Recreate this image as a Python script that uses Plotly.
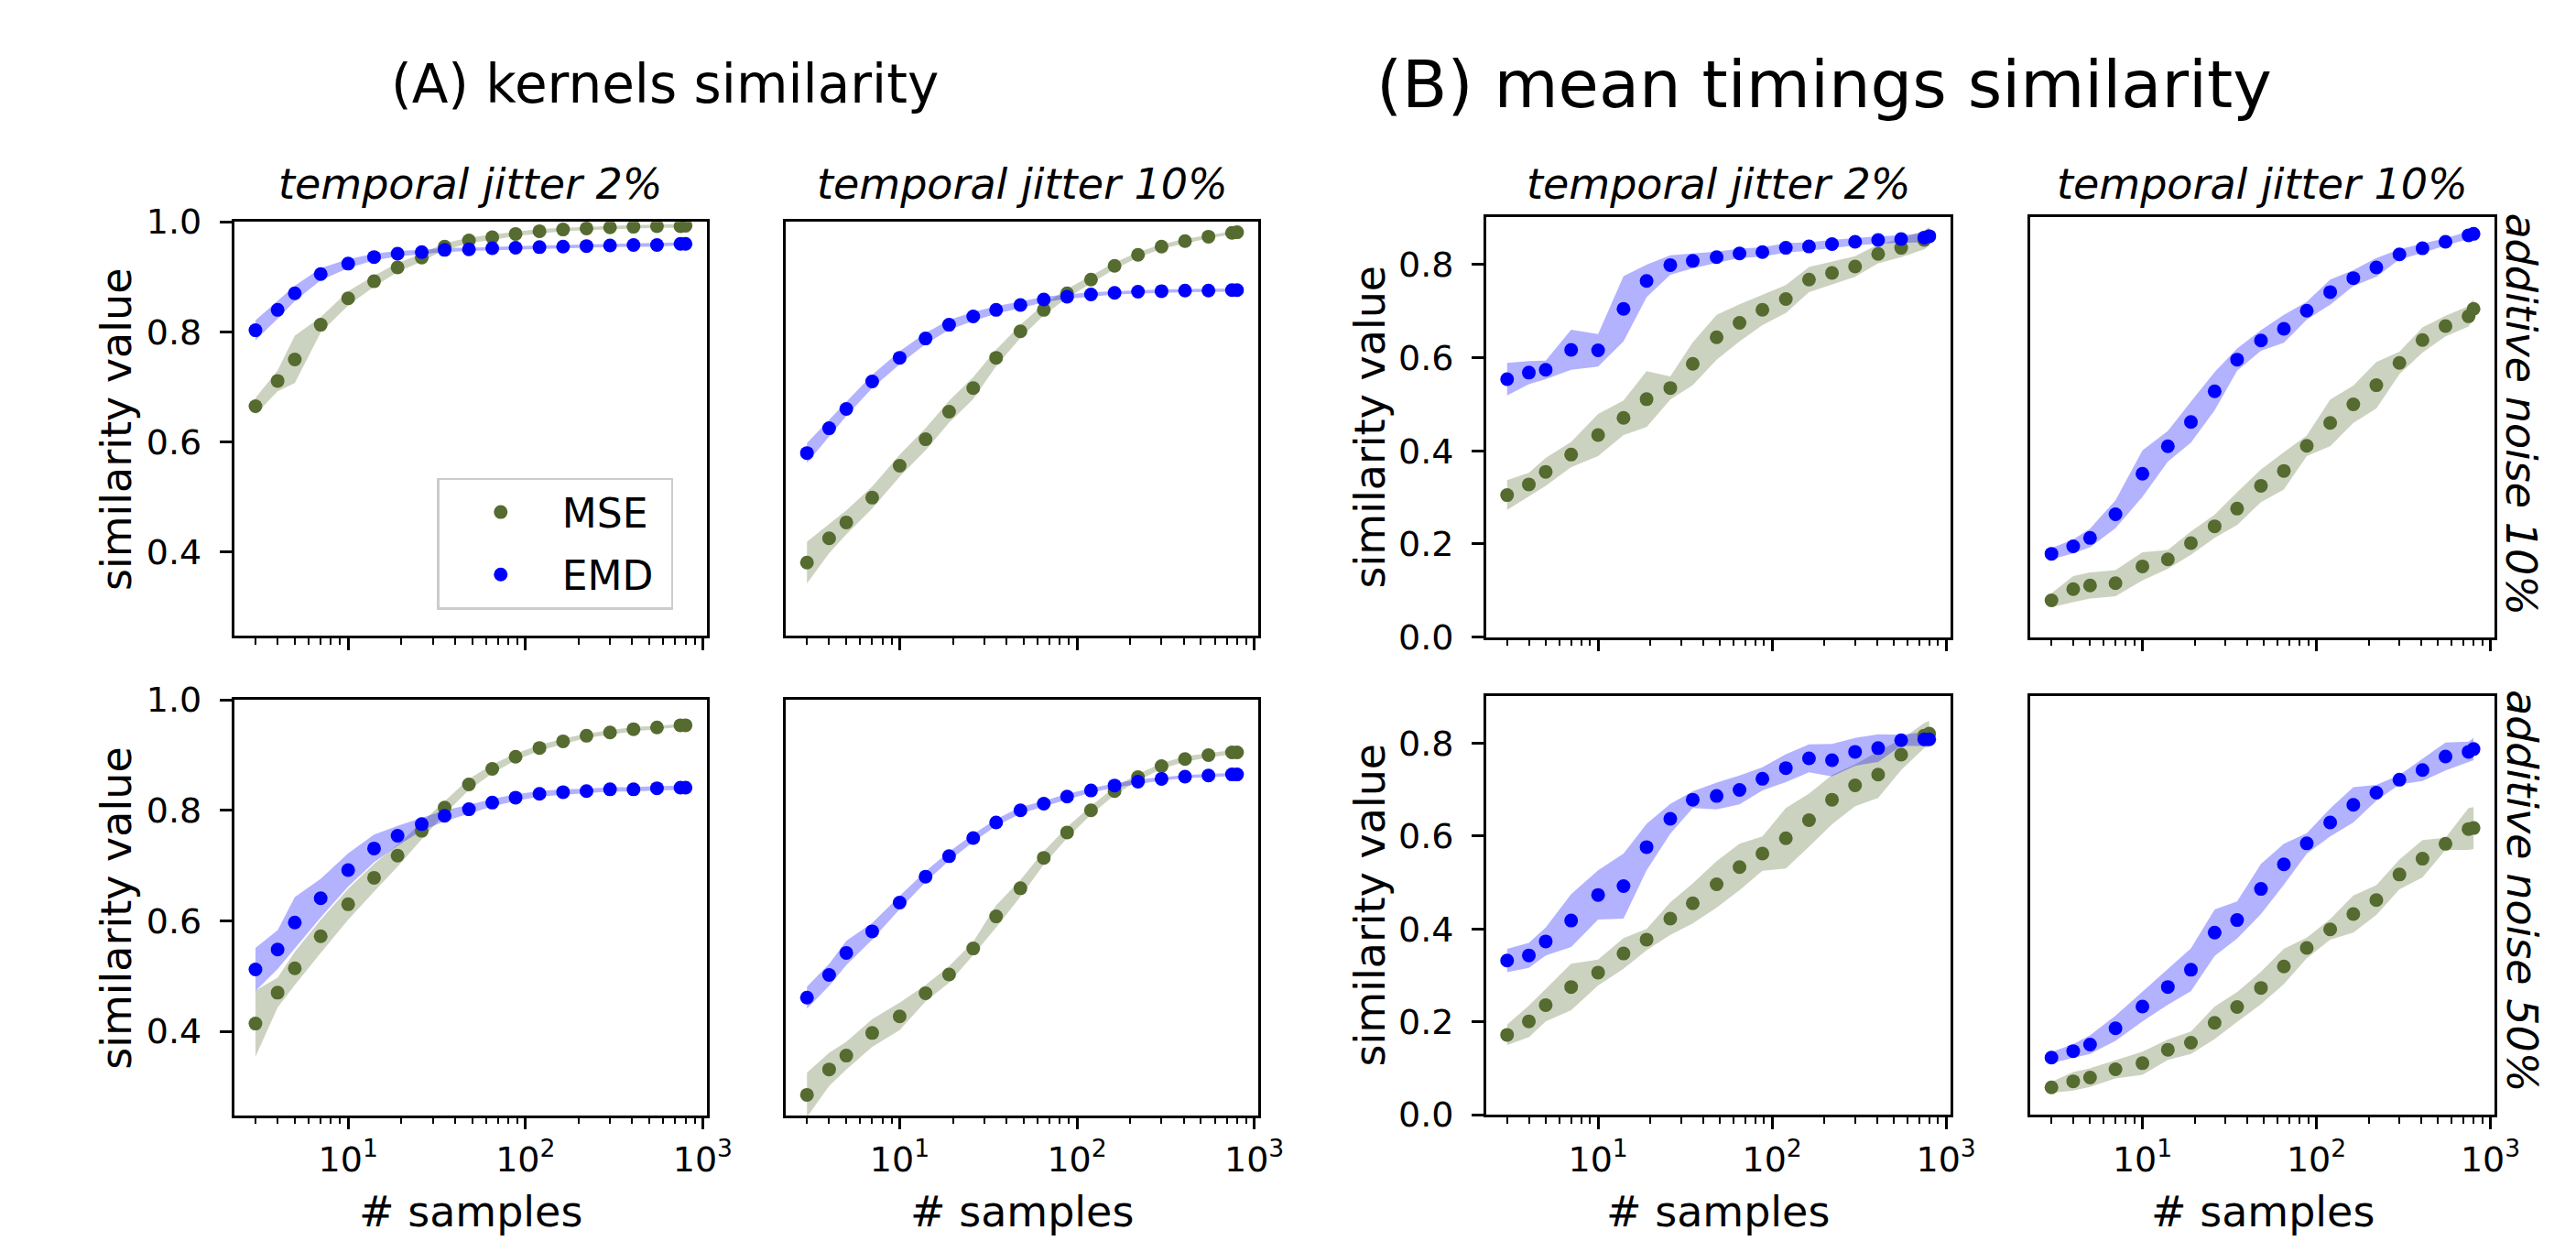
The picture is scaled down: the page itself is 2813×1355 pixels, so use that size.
import plotly.graph_objects as go

W, H = 2813, 1355

def fx(px):
    return px / W

def fy(py):
    return 1 - py / H

# ---------------- data ----------------
x_samples = [3, 4, 5, 7, 10, 14, 19, 26, 35, 48, 65, 88, 120, 163, 221, 300, 407, 552, 749, 800]

# (A) kernels similarity, temporal jitter 2%, additive noise 10%
A_j2_n10_mse = [0.665, 0.711, 0.750, 0.813, 0.861, 0.892, 0.917, 0.935, 0.955, 0.966, 0.972, 0.978, 0.983, 0.986, 0.988, 0.990, 0.991, 0.992, 0.992, 0.993]
A_j2_n10_mse_sd = [0.015, 0.019, 0.043, 0.014, 0.013, 0.010, 0.008, 0.007, 0.006, 0.005, 0.005, 0.004, 0.004, 0.003, 0.003, 0.003, 0.003, 0.003, 0.003, 0.003]
A_j2_n10_emd = [0.803, 0.840, 0.870, 0.905, 0.924, 0.936, 0.942, 0.945, 0.949, 0.950, 0.952, 0.953, 0.954, 0.955, 0.956, 0.957, 0.958, 0.958, 0.960, 0.960]
A_j2_n10_emd_sd = [0.018, 0.016, 0.014, 0.011, 0.008, 0.006, 0.005, 0.004, 0.004, 0.003, 0.003, 0.003, 0.003, 0.003, 0.003, 0.003, 0.003, 0.003, 0.003, 0.003]

# (A) kernels similarity, temporal jitter 10%, additive noise 10%
A_j10_n10_mse = [0.381, 0.425, 0.454, 0.499, 0.557, 0.605, 0.655, 0.698, 0.753, 0.801, 0.840, 0.870, 0.895, 0.920, 0.940, 0.955, 0.965, 0.973, 0.980, 0.981]
A_j10_n10_mse_sd = [0.038, 0.027, 0.022, 0.020, 0.020, 0.020, 0.020, 0.020, 0.015, 0.012, 0.010, 0.008, 0.007, 0.006, 0.005, 0.004, 0.004, 0.003, 0.003, 0.003]
A_j10_n10_emd = [0.580, 0.625, 0.660, 0.710, 0.753, 0.788, 0.813, 0.828, 0.840, 0.849, 0.859, 0.864, 0.868, 0.871, 0.873, 0.874, 0.875, 0.875, 0.876, 0.876]
A_j10_n10_emd_sd = [0.018, 0.015, 0.013, 0.012, 0.012, 0.010, 0.009, 0.008, 0.007, 0.006, 0.005, 0.004, 0.004, 0.003, 0.003, 0.003, 0.003, 0.003, 0.003, 0.003]

# (A) kernels similarity, temporal jitter 2%, additive noise 50%
A_j2_n50_mse = [0.414, 0.470, 0.514, 0.572, 0.630, 0.678, 0.718, 0.763, 0.805, 0.847, 0.875, 0.897, 0.913, 0.925, 0.935, 0.941, 0.947, 0.950, 0.954, 0.954]
A_j2_n50_mse_sd = [0.060, 0.027, 0.030, 0.030, 0.028, 0.025, 0.020, 0.015, 0.012, 0.010, 0.008, 0.006, 0.005, 0.005, 0.004, 0.004, 0.004, 0.003, 0.003, 0.003]
A_j2_n50_emd = [0.512, 0.548, 0.597, 0.641, 0.692, 0.731, 0.754, 0.775, 0.790, 0.802, 0.814, 0.823, 0.830, 0.833, 0.835, 0.838, 0.838, 0.840, 0.841, 0.841]
A_j2_n50_emd_sd = [0.039, 0.035, 0.046, 0.035, 0.030, 0.025, 0.018, 0.012, 0.010, 0.008, 0.007, 0.006, 0.005, 0.005, 0.004, 0.004, 0.004, 0.004, 0.004, 0.004]

# (A) kernels similarity, temporal jitter 10%, additive noise 50%
A_j10_n50_mse = [0.285, 0.331, 0.356, 0.397, 0.427, 0.469, 0.503, 0.550, 0.608, 0.659, 0.714, 0.760, 0.800, 0.835, 0.860, 0.880, 0.893, 0.900, 0.905, 0.905]
A_j10_n50_mse_sd = [0.040, 0.030, 0.025, 0.025, 0.025, 0.015, 0.015, 0.012, 0.020, 0.015, 0.012, 0.010, 0.008, 0.007, 0.006, 0.005, 0.005, 0.004, 0.004, 0.004]
A_j10_n50_emd = [0.461, 0.502, 0.542, 0.581, 0.633, 0.680, 0.717, 0.750, 0.778, 0.800, 0.812, 0.825, 0.836, 0.845, 0.852, 0.857, 0.861, 0.863, 0.865, 0.865]
A_j10_n50_emd_sd = [0.020, 0.020, 0.022, 0.015, 0.012, 0.010, 0.008, 0.007, 0.006, 0.006, 0.005, 0.005, 0.004, 0.004, 0.004, 0.003, 0.003, 0.003, 0.003, 0.003]

# (B) mean timings similarity, temporal jitter 2%, additive noise 10%
B_j2_n10_mse = [0.305, 0.328, 0.355, 0.392, 0.434, 0.471, 0.511, 0.535, 0.587, 0.644, 0.675, 0.703, 0.726, 0.768, 0.782, 0.796, 0.823, 0.836, 0.853, 0.861]
B_j2_n10_mse_sd = [0.032, 0.025, 0.030, 0.027, 0.045, 0.037, 0.060, 0.025, 0.046, 0.048, 0.040, 0.033, 0.030, 0.027, 0.025, 0.022, 0.020, 0.020, 0.020, 0.020]
B_j2_n10_emd = [0.554, 0.568, 0.574, 0.617, 0.616, 0.705, 0.765, 0.799, 0.808, 0.816, 0.824, 0.827, 0.836, 0.839, 0.844, 0.849, 0.853, 0.855, 0.858, 0.861]
B_j2_n10_emd_sd = [0.035, 0.025, 0.020, 0.043, 0.035, 0.070, 0.035, 0.021, 0.016, 0.012, 0.010, 0.010, 0.010, 0.009, 0.009, 0.008, 0.008, 0.008, 0.010, 0.012]

# (B) mean timings similarity, temporal jitter 10%, additive noise 10%
B_j10_n10_mse = [0.079, 0.103, 0.111, 0.116, 0.152, 0.167, 0.202, 0.238, 0.276, 0.325, 0.357, 0.411, 0.460, 0.500, 0.541, 0.589, 0.638, 0.668, 0.689, 0.705]
B_j10_n10_mse_sd = [0.015, 0.028, 0.028, 0.028, 0.030, 0.020, 0.025, 0.025, 0.035, 0.035, 0.040, 0.022, 0.050, 0.040, 0.050, 0.024, 0.027, 0.022, 0.022, 0.020]
B_j10_n10_emd = [0.179, 0.195, 0.213, 0.264, 0.351, 0.410, 0.462, 0.528, 0.596, 0.637, 0.662, 0.701, 0.741, 0.771, 0.794, 0.822, 0.835, 0.849, 0.863, 0.866]
B_j10_n10_emd_sd = [0.012, 0.015, 0.020, 0.030, 0.050, 0.033, 0.044, 0.041, 0.024, 0.022, 0.030, 0.019, 0.027, 0.017, 0.020, 0.011, 0.010, 0.008, 0.008, 0.008]

# (B) mean timings similarity, temporal jitter 2%, additive noise 50%
B_j2_n50_mse = [0.172, 0.201, 0.236, 0.275, 0.306, 0.347, 0.377, 0.422, 0.455, 0.496, 0.533, 0.562, 0.595, 0.634, 0.678, 0.709, 0.732, 0.775, 0.816, 0.820]
B_j2_n50_mse_sd = [0.022, 0.034, 0.035, 0.050, 0.028, 0.033, 0.023, 0.035, 0.043, 0.050, 0.050, 0.037, 0.065, 0.057, 0.053, 0.045, 0.050, 0.033, 0.027, 0.028]
B_j2_n50_emd = [0.332, 0.343, 0.373, 0.418, 0.473, 0.492, 0.576, 0.637, 0.678, 0.686, 0.699, 0.723, 0.746, 0.767, 0.763, 0.781, 0.789, 0.806, 0.808, 0.808]
B_j2_n50_emd_sd = [0.025, 0.027, 0.030, 0.057, 0.053, 0.070, 0.050, 0.032, 0.018, 0.029, 0.031, 0.025, 0.030, 0.030, 0.035, 0.030, 0.030, 0.012, 0.015, 0.015]

# (B) mean timings similarity, temporal jitter 10%, additive noise 50%
B_j10_n50_mse = [0.059, 0.072, 0.080, 0.098, 0.111, 0.140, 0.155, 0.198, 0.232, 0.273, 0.319, 0.359, 0.399, 0.432, 0.462, 0.517, 0.551, 0.583, 0.615, 0.617]
B_j10_n50_mse_sd = [0.012, 0.020, 0.020, 0.020, 0.025, 0.022, 0.024, 0.035, 0.032, 0.035, 0.038, 0.022, 0.022, 0.040, 0.032, 0.032, 0.040, 0.013, 0.045, 0.045]
B_j10_n50_emd = [0.123, 0.137, 0.151, 0.186, 0.233, 0.275, 0.312, 0.392, 0.419, 0.486, 0.539, 0.584, 0.629, 0.667, 0.693, 0.721, 0.742, 0.771, 0.781, 0.787]
B_j10_n50_emd_sd = [0.012, 0.015, 0.020, 0.027, 0.032, 0.038, 0.046, 0.050, 0.040, 0.054, 0.044, 0.022, 0.030, 0.038, 0.017, 0.010, 0.024, 0.030, 0.022, 0.024]

x_tickvals = [10, 100, 1000]
x_ticktext = ["10<sup>1</sup>", "10<sup>2</sup>", "10<sup>3</sup>"]
x_minor = [3, 4, 5, 6, 7, 8, 9, 20, 30, 40, 50, 60, 70, 80, 90, 200, 300, 400, 500, 600, 700, 800, 900]
A_yticks = [0.4, 0.6, 0.8, 1.0]
A_yticktext = ["0.4", "0.6", "0.8", "1.0"]
B_yticks = [0.0, 0.2, 0.4, 0.6, 0.8]
B_yticktext = ["0.0", "0.2", "0.4", "0.6", "0.8"]

group_titles = ["(A) kernels similarity", "(B) mean timings similarity"]
col_titles = ["temporal jitter 2%", "temporal jitter 10%", "temporal jitter 2%", "temporal jitter 10%"]
row_titles = ["additive noise 10%", "additive noise 50%"]
series_names = ["MSE", "EMD"]

# ---------------- style ----------------
FONT = "DejaVu Sans"
MSE_COLOR = "#556B2F"
MSE_FILL = "rgba(85,107,47,0.3)"
EMD_COLOR = "#0000FF"
EMD_FILL = "rgba(0,0,255,0.3)"

colA1 = (250, 771.7)
colA2 = (858.3, 1380)
colB1 = (1631, 2143)
colB2 = (2231.4, 2743.4)
rowA_top = (219.3, 686.5)
rowA_bot = (758.8, 1227.6)
rowB_top = (214, 688)
rowB_bot = (754, 1227)
A_range = [0.248, 1.0]
B_range = [0.0, 0.902]

panels = [
    dict(d=(A_j2_n10_mse, A_j2_n10_mse_sd, A_j2_n10_emd, A_j2_n10_emd_sd), xd=colA1, yd=rowA_top, yr=A_range, yt=(A_yticks, A_yticktext), ylab=True, xlab=False),
    dict(d=(A_j10_n10_mse, A_j10_n10_mse_sd, A_j10_n10_emd, A_j10_n10_emd_sd), xd=colA2, yd=rowA_top, yr=A_range, yt=(A_yticks, A_yticktext), ylab=False, xlab=False),
    dict(d=(A_j2_n50_mse, A_j2_n50_mse_sd, A_j2_n50_emd, A_j2_n50_emd_sd), xd=colA1, yd=rowA_bot, yr=A_range, yt=(A_yticks, A_yticktext), ylab=True, xlab=True),
    dict(d=(A_j10_n50_mse, A_j10_n50_mse_sd, A_j10_n50_emd, A_j10_n50_emd_sd), xd=colA2, yd=rowA_bot, yr=A_range, yt=(A_yticks, A_yticktext), ylab=False, xlab=True),
    dict(d=(B_j2_n10_mse, B_j2_n10_mse_sd, B_j2_n10_emd, B_j2_n10_emd_sd), xd=colB1, yd=rowB_top, yr=B_range, yt=(B_yticks, B_yticktext), ylab=True, xlab=False),
    dict(d=(B_j10_n10_mse, B_j10_n10_mse_sd, B_j10_n10_emd, B_j10_n10_emd_sd), xd=colB2, yd=rowB_top, yr=B_range, yt=(B_yticks, B_yticktext), ylab=False, xlab=False),
    dict(d=(B_j2_n50_mse, B_j2_n50_mse_sd, B_j2_n50_emd, B_j2_n50_emd_sd), xd=colB1, yd=rowB_bot, yr=B_range, yt=(B_yticks, B_yticktext), ylab=True, xlab=True),
    dict(d=(B_j10_n50_mse, B_j10_n50_mse_sd, B_j10_n50_emd, B_j10_n50_emd_sd), xd=colB2, yd=rowB_bot, yr=B_range, yt=(B_yticks, B_yticktext), ylab=False, xlab=True),
]

fig = go.Figure()
layout_axes = {}

for i, p in enumerate(panels, start=1):
    xa = "x" if i == 1 else f"x{i}"
    ya = "y" if i == 1 else f"y{i}"
    mse, mse_sd, emd, emd_sd = p["d"]
    # shaded bands
    for mean, sd, fillc in [(mse, mse_sd, MSE_FILL), (emd, emd_sd, EMD_FILL)]:
        upper = [m + s for m, s in zip(mean, sd)]
        lower = [m - s for m, s in zip(mean, sd)]
        fig.add_trace(go.Scatter(
            x=x_samples + x_samples[::-1], y=upper + lower[::-1],
            fill="toself", fillcolor=fillc, mode="lines", line=dict(width=0, color=fillc),
            hoverinfo="skip", showlegend=False, xaxis=xa, yaxis=ya))
    # dots
    for name, mean, col in [(series_names[0], mse, MSE_COLOR), (series_names[1], emd, EMD_COLOR)]:
        fig.add_trace(go.Scatter(
            x=x_samples, y=mean, mode="markers", name=name + "\u00a0",
            marker=dict(size=15, color=col, line=dict(width=0)),
            showlegend=(i == 1), legendgroup=name, xaxis=xa, yaxis=ya))

    xkey = "xaxis" if i == 1 else f"xaxis{i}"
    ykey = "yaxis" if i == 1 else f"yaxis{i}"
    layout_axes[xkey] = dict(
        type="log", range=[0.356, 3.024], domain=[fx(p["xd"][0]), fx(p["xd"][1])],
        anchor=ya, showline=True, linecolor="black", linewidth=2.5, mirror=True,
        ticks="outside", ticklen=13, tickwidth=2.5, tickcolor="black",
        tickmode="array", tickvals=x_tickvals, ticktext=x_ticktext,
        showticklabels=p["xlab"], tickfont=dict(family=FONT, size=38, color="black"),
        minor=dict(ticks="outside", ticklen=7, tickwidth=2, tickcolor="black",
                   tickmode="array", tickvals=x_minor, showgrid=False),
        showgrid=False, zeroline=False, fixedrange=True)
    layout_axes[ykey] = dict(
        range=p["yr"], domain=[fy(p["yd"][1]), fy(p["yd"][0])],
        anchor=xa, showline=True, linecolor="black", linewidth=2.5, mirror=True,
        ticks="outside" if p["ylab"] else "", ticklen=13, tickwidth=2.5, tickcolor="black",
        tickmode="array", tickvals=p["yt"][0], ticktext=p["yt"][1],
        showticklabels=p["ylab"], ticklabelstandoff=12,
        tickfont=dict(family=FONT, size=38, color="black"),
        showgrid=False, zeroline=False, fixedrange=True)

annotations = []

def add_text(text, px, py, size, angle=0, xanchor="center", yanchor="middle"):
    annotations.append(dict(
        text=text, x=fx(px), y=fy(py), xref="paper", yref="paper",
        xanchor=xanchor, yanchor=yanchor, showarrow=False, textangle=angle,
        font=dict(family=FONT, size=size, color="black")))

# group titles
add_text(group_titles[0], 725, 64, 58)
add_text(group_titles[1], 2004, 64, 72)

# column titles
for t, col in zip(col_titles, [colA1, colA2, colB1, colB2]):
    add_text("<i>" + t + "</i>", (col[0] + col[1]) / 2, 207, 46, yanchor="bottom")

# x labels
for col in [colA1, colA2, colB1, colB2]:
    add_text("# samples", (col[0] + col[1]) / 2, 1336, 46)

# y labels
add_text("similarity value", 120, (rowA_top[0] + rowA_top[1]) / 2, 46, angle=-90)
add_text("similarity value", 120, (rowA_bot[0] + rowA_bot[1]) / 2, 46, angle=-90)
add_text("similarity value", 1503, (rowB_top[0] + rowB_top[1]) / 2, 46, angle=-90)
add_text("similarity value", 1503, (rowB_bot[0] + rowB_bot[1]) / 2, 46, angle=-90)

# row titles on right
add_text("<i>" + row_titles[0] + "</i>", 2773, 437, 46, angle=90)
add_text("<i>" + row_titles[1] + "</i>", 2773, 975, 46, angle=90)

fig.update_layout(
    width=W, height=H, autosize=False,
    margin=dict(l=0, r=0, t=0, b=0),
    paper_bgcolor="white", plot_bgcolor="white",
    font=dict(family=FONT, color="black"),
    annotations=annotations,
    legend=dict(
        x=fx(474), y=fy(508), xanchor="left", yanchor="top",
        bgcolor="rgba(255,255,255,0.8)", bordercolor="#CCCCCC", borderwidth=2.5,
        font=dict(family=FONT, size=44, color="black"),
        itemwidth=124, tracegroupgap=8),
    **layout_axes,
)

fig.write_html("out.html")
